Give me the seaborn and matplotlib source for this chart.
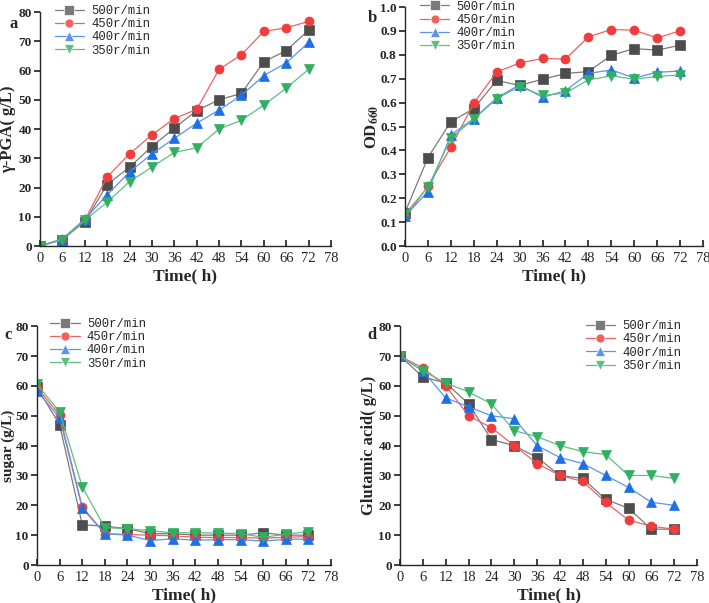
import pandas as pd
import seaborn as sns
import matplotlib.pyplot as plt

sns.set_theme(style="ticks")
plt.rcParams['font.family'] = ['Liberation Serif', 'Noto Sans CJK SC', 'DejaVu Sans']
plt.rcParams['mathtext.fontset'] = 'stix'

time_h = [0, 6, 12, 18, 24, 30, 36, 42, 48, 54, 60, 66, 72]
speeds = ['500r/min', '450r/min', '400r/min', '350r/min']

# a: gamma-PGA
pga_500 = [0, 2.2, 8.3, 21, 27, 34, 40.3, 46.3, 50, 52.2, 63, 66.8, 73.8]
pga_450 = [0, 2.2, 8.8, 23.6, 31.5, 38, 43.6, 46.7, 60.4, 65.4, 73.4, 74.6, 76.8]
pga_400 = [0, 2.5, 9.2, 17.5, 25.3, 31.5, 36.8, 42, 46.5, 51.5, 58.3, 62.6, 69.6]
pga_350 = [0, 2.2, 8.8, 15, 22, 27, 32, 33.6, 40, 43, 48.2, 54, 60.4]

# b: OD660
od_500 = [0.14, 0.37, 0.52, 0.575, 0.693, 0.672, 0.698, 0.722, 0.73, 0.798, 0.826, 0.82, 0.84]
od_450 = [0.12, 0.25, 0.413, 0.598, 0.728, 0.766, 0.785, 0.782, 0.875, 0.906, 0.903, 0.871, 0.9]
od_400 = [0.125, 0.228, 0.465, 0.533, 0.62, 0.675, 0.622, 0.65, 0.722, 0.737, 0.703, 0.727, 0.732]
od_350 = [0.135, 0.245, 0.452, 0.531, 0.617, 0.667, 0.63, 0.64, 0.695, 0.712, 0.698, 0.71, 0.716]

# c: sugar
sug_500 = [59.5, 47, 13.5, 13, 12.2, 10.5, 10.5, 10, 10, 10, 10.8, 10, 10]
sug_450 = [59.5, 50.2, 19.5, 10.5, 10.2, 10, 9.8, 9.3, 9.2, 9.2, 9, 9.3, 9.5]
sug_400 = [58.3, 49.3, 19, 10.5, 10, 8.2, 8.8, 8.3, 8.5, 8.5, 8, 8.6, 8.7]
sug_350 = [60.5, 51.3, 26.2, 12.5, 12.2, 11.5, 10.8, 10.8, 10.7, 10.5, 9.3, 10.3, 11.2]

# d: glutamic acid
glu_500 = [70, 63, 61, 54, 42, 40, 36, 30, 29, 22, 19, 12, 12]
glu_450 = [70, 66, 60, 50, 46, 40, 34, 30, 28, 21, 15, 13, 12]
glu_400 = [70, 65, 56, 53, 50, 49, 40, 36, 34, 30, 26, 21, 20]
glu_350 = [70, 65, 61, 58, 54, 45, 43, 40, 38, 37, 30, 30, 29]

colors = {'500r/min': '#4d4d4d', '450r/min': '#f03c3c', '400r/min': '#1f6fe5', '350r/min': '#30b060'}
line_colors = {'500r/min': '#7a7a7a', '450r/min': '#f26060', '400r/min': '#5a95ea', '350r/min': '#5cc080'}
markers = {'500r/min': 's', '450r/min': 'o', '400r/min': '^', '350r/min': 'v'}


def long_df(series):
    rows = []
    for name, vals in zip(speeds, series):
        for t, v in zip(time_h, vals):
            rows.append({'time': t, 'value': v, 'speed': name})
    return pd.DataFrame(rows)


fig = plt.figure(figsize=(7.09, 6.03), dpi=100)

panels = [
    ([0.0564, 0.592, 0.4104, 0.388], [pga_500, pga_450, pga_400, pga_350], (0, 80), 10,
     'γ-PGA( g/L)', 'a', (10, 24), (0.05, 1.03), -0.082, 12),
    ([0.5712, 0.592, 0.4203, 0.3963], [od_500, od_450, od_400, od_350], (0, 1.0), 0.1,
     r'OD$_{\mathbf{660}}$', 'b', (368, 18), (0.05, 1.027), -0.08, 12),
    ([0.0522, 0.063, 0.4147, 0.396], [sug_500, sug_450, sug_400, sug_350], (0, 80), 10,
     'sugar (g/L)', 'c', (4, 335), (0.045, 1.035), -0.075, 11),
    ([0.5642, 0.063, 0.419, 0.396], [glu_500, glu_450, glu_400, glu_350], (0, 80), 10,
     'Glutamic acid( g/L)', 'd', (367, 335), (0.625, 1.025), -0.077, 12),
]

for rect, series, ylim, ystep, ylabel, letter, lpos, legpos, labx, labsize in panels:
    ax = fig.add_axes(rect)
    df = long_df(series)
    sns.lineplot(data=df, x='time', y='value', hue='speed', style='speed',
                 palette=line_colors, markers=markers, dashes=False, ax=ax,
                 linewidth=0.9, markersize=6.5, markeredgewidth=0.5)
    for line, name in zip(ax.get_lines(), speeds):
        line.set_markerfacecolor(colors[name])
        line.set_markeredgecolor(colors[name])
    ax.set_xlim(0, 78)
    ax.set_ylim(*ylim)
    ax.set_xticks(range(0, 79, 6))
    n = int(round((ylim[1] - ylim[0]) / ystep))
    yt = [ylim[0] + i * ystep for i in range(n + 1)]
    ax.set_yticks(yt)
    if ystep < 1:
        ax.set_yticklabels([f'{v:.1f}' for v in yt])
    sns.despine(ax=ax)
    ax.tick_params(axis='x', direction='in', length=4, labelsize=10.5, pad=4)
    ax.tick_params(axis='y', direction='out', length=4, labelsize=9.5, pad=2)
    for lab in ax.get_yticklabels():
        lab.set_fontweight('bold')
    ax.set_xlabel('Time( h)', fontsize=12.5, fontweight='bold', labelpad=3)
    ax.set_ylabel(ylabel, fontsize=labsize, fontweight='bold')
    ax.yaxis.set_label_coords(labx, 0.5)
    for s in ax.spines.values():
        s.set_linewidth(1.0)
    handles, labels = ax.get_legend_handles_labels()
    ax.legend(handles, labels, loc='upper left', bbox_to_anchor=legpos,
              frameon=False, prop={'family': 'Liberation Mono', 'size': 8.8},
              handlelength=2.4, labelspacing=0.1, borderpad=0.0, handletextpad=0.6,
              borderaxespad=0.0)
    fig.text(lpos[0] / 709, 1 - lpos[1] / 603, letter, fontsize=12, fontweight='bold',
             ha='left', va='center')

fig.savefig('out.png', dpi=100)
